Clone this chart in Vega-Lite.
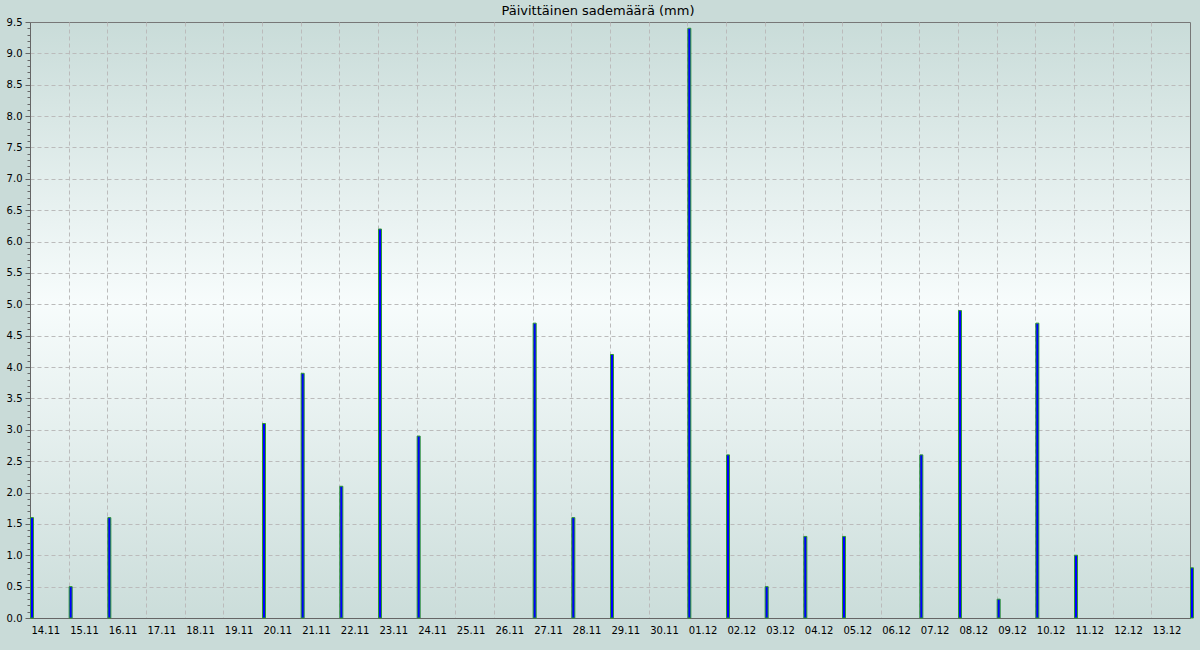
{
  "$schema": "https://vega.github.io/schema/vega-lite/v6.json",
  "autosize": "none",
  "width": 1160,
  "height": 596,
  "padding": {"left": 30, "top": 22, "right": 10, "bottom": 32},
  "background": "#c9dbd8",
  "title": {"text": "Päivittäinen sademäärä (mm)", "font": "DejaVu Sans", "fontSize": 13, "fontWeight": "normal", "color": "#000000", "anchor": "middle", "dx": -12, "offset": 5, "dy": 6},
  "config": {
    "view": {
      "stroke": "#777777",
      "strokeWidth": 1,
      "fill": {"gradient": "linear", "x1": 0, "y1": 0, "x2": 0, "y2": 1, "stops": [
        {"offset": 0, "color": "#c9dcd9"},
        {"offset": 0.47, "color": "#f7fcfc"},
        {"offset": 1, "color": "#cbddda"}
      ]}
    },
    "axis": {"labelFont": "DejaVu Sans", "labelFontSize": 10, "labelColor": "#000000", "domainColor": "#666666", "tickColor": "#666666", "gridColor": "#bbbbbb", "gridDash": [4, 3], "title": null}
  },
  "data": {"values": [
    {"date": "2023-11-14T00:00:00", "mm": 1.6},
    {"date": "2023-11-15T00:00:00", "mm": 0.5},
    {"date": "2023-11-16T00:00:00", "mm": 1.6},
    {"date": "2023-11-17T00:00:00", "mm": 0},
    {"date": "2023-11-18T00:00:00", "mm": 0},
    {"date": "2023-11-19T00:00:00", "mm": 0},
    {"date": "2023-11-20T00:00:00", "mm": 3.1},
    {"date": "2023-11-21T00:00:00", "mm": 3.9},
    {"date": "2023-11-22T00:00:00", "mm": 2.1},
    {"date": "2023-11-23T00:00:00", "mm": 6.2},
    {"date": "2023-11-24T00:00:00", "mm": 2.9},
    {"date": "2023-11-25T00:00:00", "mm": 0},
    {"date": "2023-11-26T00:00:00", "mm": 0},
    {"date": "2023-11-27T00:00:00", "mm": 4.7},
    {"date": "2023-11-28T00:00:00", "mm": 1.6},
    {"date": "2023-11-29T00:00:00", "mm": 4.2},
    {"date": "2023-11-30T00:00:00", "mm": 0},
    {"date": "2023-12-01T00:00:00", "mm": 9.4},
    {"date": "2023-12-02T00:00:00", "mm": 2.6},
    {"date": "2023-12-03T00:00:00", "mm": 0.5},
    {"date": "2023-12-04T00:00:00", "mm": 1.3},
    {"date": "2023-12-05T00:00:00", "mm": 1.3},
    {"date": "2023-12-06T00:00:00", "mm": 0},
    {"date": "2023-12-07T00:00:00", "mm": 2.6},
    {"date": "2023-12-08T00:00:00", "mm": 4.9},
    {"date": "2023-12-09T00:00:00", "mm": 0.3},
    {"date": "2023-12-10T00:00:00", "mm": 4.7},
    {"date": "2023-12-11T00:00:00", "mm": 1.0},
    {"date": "2023-12-12T00:00:00", "mm": 0},
    {"date": "2023-12-13T00:00:00", "mm": 0},
    {"date": "2023-12-14T00:00:00", "mm": 0.8}
  ]},
  "transform": [{"filter": "datum.mm > 0"}],
  "mark": {"type": "bar", "width": 3, "xOffset": 2, "fill": "#0000ff", "stroke": "#2e9a2e", "strokeWidth": 1, "clip": false},
  "encoding": {
    "x": {
      "field": "date", "type": "temporal",
      "scale": {"domain": [{"year": 2023, "month": 11, "date": 14}, {"year": 2023, "month": 12, "date": 14}], "nice": false, "padding": 0},
      "axis": {
        "values": [
          {"year": 2023, "month": 11, "date": 14}, {"year": 2023, "month": 11, "date": 15}, {"year": 2023, "month": 11, "date": 16}, {"year": 2023, "month": 11, "date": 17}, {"year": 2023, "month": 11, "date": 18}, {"year": 2023, "month": 11, "date": 19}, {"year": 2023, "month": 11, "date": 20}, {"year": 2023, "month": 11, "date": 21}, {"year": 2023, "month": 11, "date": 22}, {"year": 2023, "month": 11, "date": 23}, {"year": 2023, "month": 11, "date": 24}, {"year": 2023, "month": 11, "date": 25}, {"year": 2023, "month": 11, "date": 26}, {"year": 2023, "month": 11, "date": 27}, {"year": 2023, "month": 11, "date": 28}, {"year": 2023, "month": 11, "date": 29}, {"year": 2023, "month": 11, "date": 30},
          {"year": 2023, "month": 12, "date": 1}, {"year": 2023, "month": 12, "date": 2}, {"year": 2023, "month": 12, "date": 3}, {"year": 2023, "month": 12, "date": 4}, {"year": 2023, "month": 12, "date": 5}, {"year": 2023, "month": 12, "date": 6}, {"year": 2023, "month": 12, "date": 7}, {"year": 2023, "month": 12, "date": 8}, {"year": 2023, "month": 12, "date": 9}, {"year": 2023, "month": 12, "date": 10}, {"year": 2023, "month": 12, "date": 11}, {"year": 2023, "month": 12, "date": 12}, {"year": 2023, "month": 12, "date": 13}
        ],
        "format": "%d.%m", "labelAlign": "left", "labelOffset": 1, "ticks": false, "labelPadding": 7, "labelOverlap": false, "labelFlush": false, "grid": true, "domainColor": "#666666"
      }
    },
    "y": {
      "field": "mm", "type": "quantitative",
      "scale": {"domain": [0, 9.5], "nice": false},
      "axis": {
        "values": [0,0.1,0.2,0.3,0.4,0.5,0.6,0.7,0.8,0.9,1,1.1,1.2,1.3,1.4,1.5,1.6,1.7,1.8,1.9,2,2.1,2.2,2.3,2.4,2.5,2.6,2.7,2.8,2.9,3,3.1,3.2,3.3,3.4,3.5,3.6,3.7,3.8,3.9,4,4.1,4.2,4.3,4.4,4.5,4.6,4.7,4.8,4.9,5,5.1,5.2,5.3,5.4,5.5,5.6,5.7,5.8,5.9,6,6.1,6.2,6.3,6.4,6.5,6.6,6.7,6.8,6.9,7,7.1,7.2,7.3,7.4,7.5,7.6,7.7,7.8,7.9,8,8.1,8.2,8.3,8.4,8.5,8.6,8.7,8.8,8.9,9,9.1,9.2,9.3,9.4,9.5],
        "labelExpr": "abs(datum.value*2 - round(datum.value*2)) < 0.01 ? format(datum.value, '.1f') : ''",
        "labelOverlap": false, "labelFlush": false, "labelPadding": 3, "labelBaseline": "middle",
        "tickSize": {"condition": {"test": "abs(datum.value*2 - round(datum.value*2)) < 0.01", "value": 5}, "value": 3},
        "gridOpacity": {"condition": {"test": "abs(datum.value*2 - round(datum.value*2)) < 0.01 && datum.value > 0.01 && datum.value < 9.49", "value": 1}, "value": 0},
        "grid": true
      }
    }
  }
}
